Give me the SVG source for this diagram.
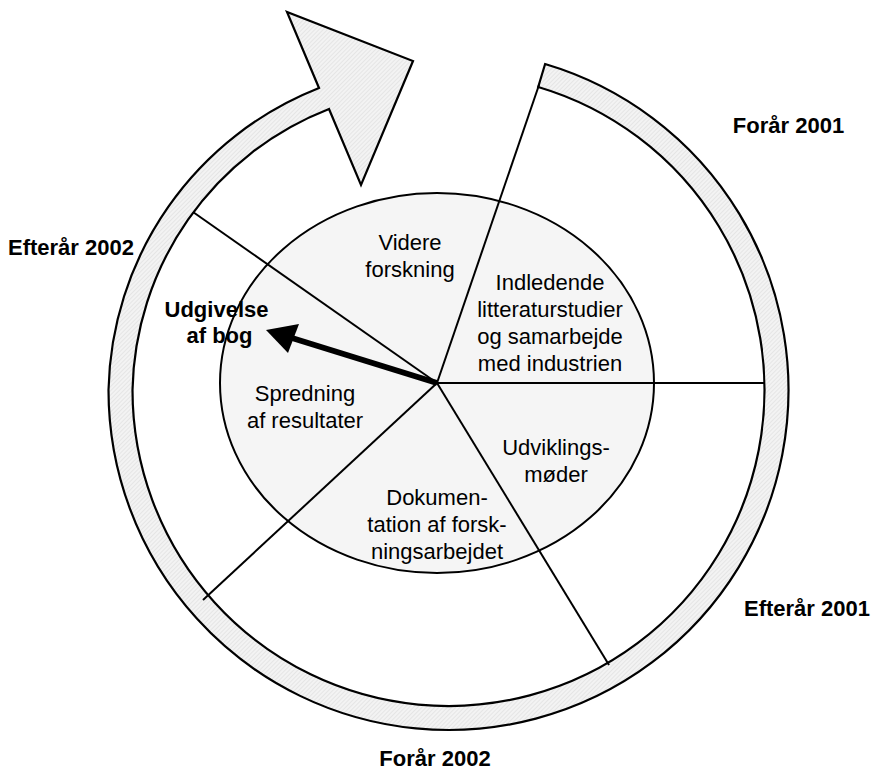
<svg xmlns="http://www.w3.org/2000/svg" width="873" height="774" viewBox="0 0 873 774">
  <defs>
    <pattern id="hatch" width="3" height="3" patternUnits="userSpaceOnUse" patternTransform="rotate(45)">
      <rect width="3" height="3" fill="#f3f3f3"/>
      <line x1="0" y1="0" x2="0" y2="3" stroke="#d8d8d8" stroke-width="1"/>
    </pattern>
  </defs>
  <style>
    .ring { fill: url(#hatch); stroke: #000; stroke-width: 2.2; stroke-linejoin: miter; }
    .disc { fill: #f5f5f5; stroke: #000; stroke-width: 2; }
    .spoke { stroke: #000; stroke-width: 2; fill: none; }
    .lbl { font-family: "Liberation Sans", Arial, sans-serif; font-size: 22px; fill: #000; text-anchor: middle; }
    .season { font-family: "Liberation Sans", Arial, sans-serif; font-size: 22px; font-weight: bold; fill: #000; text-anchor: middle; }
  </style>

  <rect width="873" height="774" fill="#fff"/>

  <!-- year cycle: ring running clockwise from the top, ending in an arrowhead -->
  <g id="cycle">
    <path class="ring" d="M 545.1,64 A 340,340 0 1 1 108.5,390 A 332,332 0 0 1 319,88 L 287,12 L 413,61 L 361,185 L 329,109 A 308,308 0 0 0 132.5,390 A 316,316 0 1 0 538.2,87 Z"/>
  </g>

  <!-- central disc -->
  <g id="disc">
    <ellipse class="disc" cx="437" cy="383" rx="217" ry="190"/>
  </g>

  <!-- sector dividers and publication arrow -->
  <g id="connectors">
    <line class="spoke" x1="437" y1="383" x2="764" y2="383"/>
    <line class="spoke" x1="437" y1="383" x2="609" y2="665"/>
    <line class="spoke" x1="437" y1="383" x2="203" y2="600"/>
    <line class="spoke" x1="437" y1="383" x2="193" y2="212"/>
    <line class="spoke" x1="437" y1="383" x2="539" y2="85"/>
    <line x1="437" y1="383" x2="292" y2="338" stroke="#000" stroke-width="6"/>
    <polygon points="266,330 299,324 288,353" fill="#000"/>
  </g>

  <!-- sector labels -->
  <g id="videre">
    <text class="lbl" x="410" y="250">Videre</text>
    <text class="lbl" x="410" y="277">forskning</text>
  </g>
  <g id="indledende">
    <text class="lbl" x="550" y="290">Indledende</text>
    <text class="lbl" x="550" y="317">litteraturstudier</text>
    <text class="lbl" x="550" y="344">og samarbejde</text>
    <text class="lbl" x="550" y="371">med industrien</text>
  </g>
  <g id="udvikling">
    <text class="lbl" x="556" y="455">Udviklings-</text>
    <text class="lbl" x="556" y="482">møder</text>
  </g>
  <g id="dokumentation">
    <text class="lbl" x="437" y="505">Dokumen-</text>
    <text class="lbl" x="437" y="532">tation af forsk-</text>
    <text class="lbl" x="437" y="559">ningsarbejdet</text>
  </g>
  <g id="spredning">
    <text class="lbl" x="305" y="401">Spredning</text>
    <text class="lbl" x="305" y="428">af resultater</text>
  </g>
  <g id="udgivelse">
    <text class="season" x="216.5" y="317">Udgivelse</text>
    <text class="season" x="219.5" y="343">af bog</text>
  </g>

  <!-- seasons -->
  <g id="foraar2001"><text class="season" x="788.5" y="133">Forår 2001</text></g>
  <g id="efteraar2001"><text class="season" x="807" y="616">Efterår 2001</text></g>
  <g id="foraar2002"><text class="season" x="435" y="766">Forår 2002</text></g>
  <g id="efteraar2002"><text class="season" x="71" y="255">Efterår 2002</text></g>
</svg>
